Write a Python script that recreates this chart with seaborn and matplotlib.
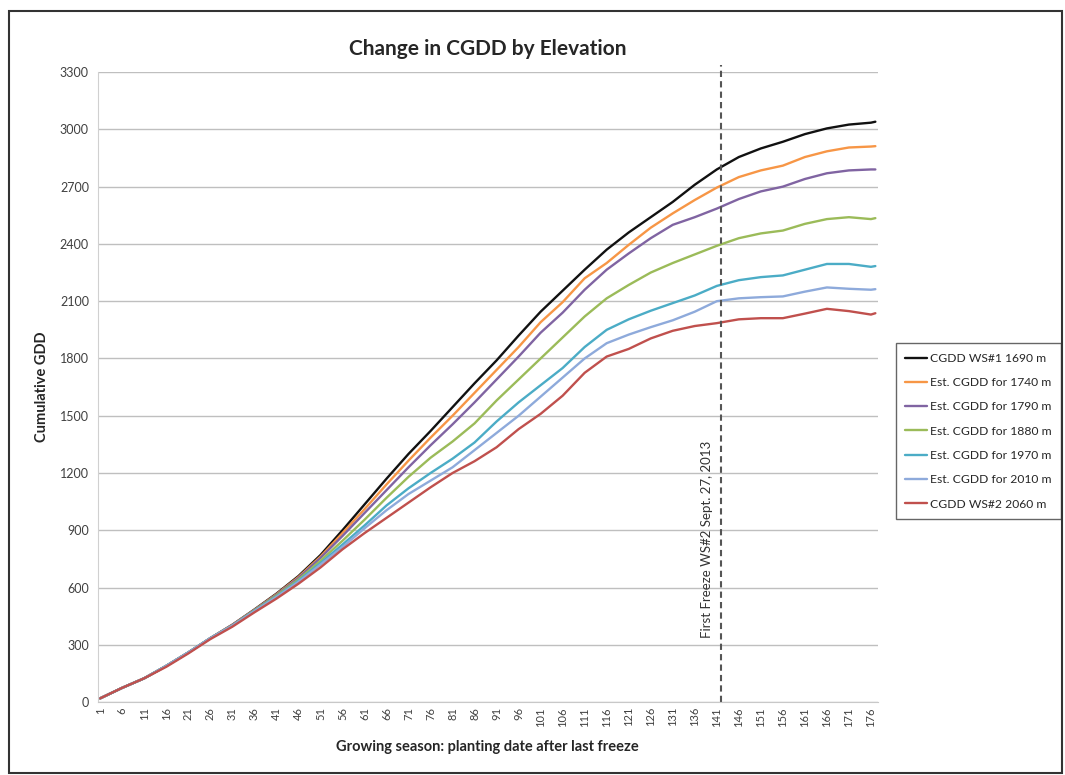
import matplotlib
matplotlib.use("Agg")
import matplotlib.pyplot as plt
import seaborn as sns
import pandas as pd
from matplotlib.patches import Rectangle

days = [1, 6, 11, 16, 21, 26, 31, 36, 41, 46, 51, 56, 61, 66, 71, 76, 81, 86,
        91, 96, 101, 106, 111, 116, 121, 126, 131, 136, 141, 146, 151, 156,
        161, 166, 171, 176, 177]

ws1_1690 = [20, 75, 125, 190, 260, 335, 405, 485, 568, 660, 770, 900, 1035,
            1170, 1300, 1420, 1545, 1670, 1790, 1920, 2045, 2155, 2265, 2370,
            2460, 2540, 2620, 2710, 2790, 2855, 2900, 2935, 2975, 3005, 3025,
            3035, 3040]
est_1740 = [20, 75, 125, 190, 260, 335, 405, 483, 565, 655, 762, 885, 1010,
            1140, 1265, 1385, 1500, 1620, 1740, 1860, 1990, 2095, 2220, 2300,
            2395, 2485, 2560, 2630, 2695, 2750, 2785, 2810, 2855, 2885, 2905,
            2910, 2912]
est_1790 = [20, 75, 125, 190, 260, 335, 405, 482, 562, 650, 755, 870, 990,
            1110, 1230, 1345, 1455, 1570, 1690, 1810, 1935, 2040, 2160, 2265,
            2350, 2430, 2500, 2540, 2585, 2635, 2675, 2700, 2740, 2770, 2785,
            2790, 2790]
est_1880 = [20, 75, 125, 190, 260, 335, 402, 480, 558, 642, 740, 845, 955,
            1070, 1180, 1280, 1365, 1460, 1580, 1690, 1800, 1910, 2020, 2115,
            2185, 2250, 2300, 2345, 2390, 2430, 2455, 2470, 2505, 2530, 2540,
            2530, 2535]
est_1970 = [20, 75, 125, 190, 260, 335, 400, 478, 553, 635, 728, 825, 925,
            1030, 1120, 1200, 1275, 1360, 1470, 1570, 1660, 1750, 1860, 1950,
            2005, 2050, 2090, 2130, 2180, 2210, 2226, 2235, 2265, 2295, 2295,
            2280, 2284]
est_2010 = [20, 75, 125, 190, 260, 335, 400, 476, 550, 630, 720, 812, 910,
            1005, 1090, 1160, 1230, 1320, 1410, 1500, 1600, 1700, 1800, 1880,
            1925, 1964, 2000, 2045, 2100, 2115, 2121, 2125, 2150, 2172, 2165,
            2160, 2163]
ws2_2060 = [20, 75, 125, 185, 255, 330, 395, 470, 542, 620, 705, 800, 885,
            965, 1045, 1125, 1200, 1262, 1335, 1430, 1510, 1605, 1725, 1810,
            1850, 1905, 1945, 1970, 1985, 2005, 2011, 2011, 2035, 2060, 2048,
            2030, 2037]

labels = ["CGDD WS#1 1690 m", "Est. CGDD for 1740 m", "Est. CGDD for 1790 m",
          "Est. CGDD for 1880 m", "Est. CGDD for 1970 m", "Est. CGDD for 2010 m",
          "CGDD WS#2 2060 m"]
colors = ["#111111", "#F79646", "#8064A2", "#9BBB59", "#4BACC6", "#8EAADB",
          "#C0504D"]
series = [ws1_1690, est_1740, est_1790, est_1880, est_1970, est_2010, ws2_2060]

freeze_day = 142
xtick_days = list(range(1, 177, 5))
yticks = list(range(0, 3301, 300))

frames = []
for lab, vals in zip(labels, series):
    frames.append(pd.DataFrame({"day": days, "cgdd": vals, "series": lab}))
df = pd.concat(frames, ignore_index=True)

sns.set_style("white")
plt.rcParams["font.family"] = ["Lato", "DejaVu Sans"]

fig = plt.figure(figsize=(10.65, 7.75), dpi=100)
ax = fig.add_axes([0.092, 0.094, 0.732, 0.813])

sns.lineplot(data=df, x="day", y="cgdd", hue="series", hue_order=labels,
             palette=dict(zip(labels, colors)), linewidth=1.7, ax=ax)

ax.set_xlim(0.5, 177.5)
ax.set_ylim(0, 3300)
ax.set_yticks(yticks)
ax.set_xticks(xtick_days)
ax.set_xticklabels([str(d) for d in xtick_days], rotation=90, fontsize=8,
                   color="#404040")
ax.tick_params(axis="y", labelsize=9, colors="#404040", length=3, color="#BFBFBF")
ax.tick_params(axis="x", length=0)
ax.yaxis.grid(True, color="#BFBFBF", linewidth=1)
for s in ["top", "right"]:
    ax.spines[s].set_visible(False)
ax.spines["left"].set_color("#D0D0D0")
ax.spines["bottom"].set_color("#C8C8C8")

ax.axvline(freeze_day, ymin=0, ymax=1.012, color="#555555", linestyle="--",
           linewidth=1.5, clip_on=False, dashes=(3, 2))
ax.text(freeze_day - 3.3, 850, "First Freeze WS#2 Sept. 27, 2013", rotation=90,
        ha="center", va="center", fontsize=9.5, color="#333333")

ax.set_title("Change in CGDD by Elevation", fontsize=15, fontweight="bold",
             pad=12)
ax.set_xlabel("Growing season: planting date after last freeze", fontsize=10.5,
              fontweight="bold", labelpad=10)
ax.set_ylabel("Cumulative GDD", fontsize=10.5, fontweight="bold", labelpad=8)

leg = ax.legend(loc="center left", bbox_to_anchor=(1.02, 0.43), fontsize=8.7,
                frameon=True, fancybox=False, edgecolor="#404040",
                labelspacing=1.1, handlelength=1.8, handletextpad=0.25,
                borderpad=0.8, borderaxespad=0.2, title=None)
leg.get_frame().set_linewidth(1)

fig.patches.append(Rectangle((0.008, 0.003), 0.989, 0.983, transform=fig.transFigure,
                             fill=False, edgecolor="#333333", linewidth=1.5))

fig.savefig("out.png", dpi=100)
